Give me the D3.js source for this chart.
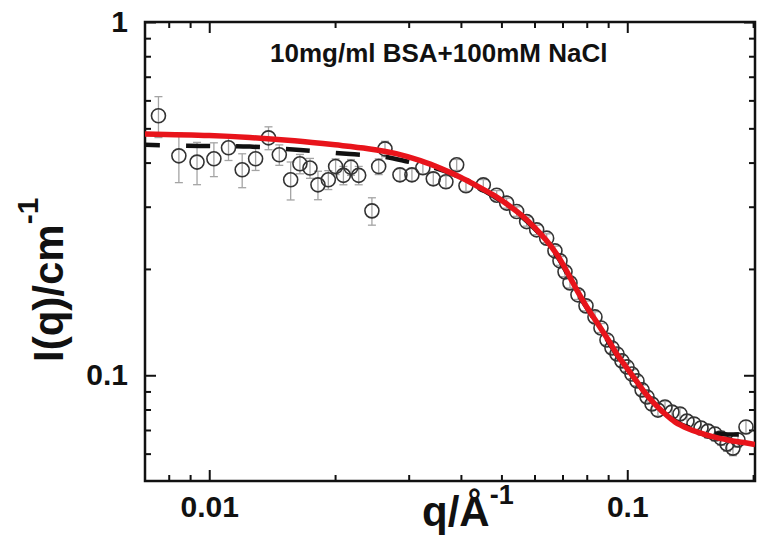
<!DOCTYPE html>
<html>
<head>
<meta charset="utf-8">
<script src="https://cdn.jsdelivr.net/npm/d3@7"></script>
<style>
  html, body { margin: 0; padding: 0; background: #fff; }
  svg { display: block; }
  text { font-family: "Liberation Sans", Arial, Helvetica, sans-serif; font-weight: bold; fill: #111; }
</style>
</head>
<body>
<svg id="chart" width="762" height="538"></svg>
<script>
// Measured SAXS intensity, I(q) in cm^-1 against q in 1/Å
const qData = [0.00756, 0.00846, 0.00935, 0.01026, 0.01112, 0.01199, 0.01291, 0.01386, 0.01471, 0.01566,
  0.01648, 0.01742, 0.0182, 0.01927, 0.02006, 0.02094, 0.02183, 0.02278, 0.0245, 0.02543,
  0.02633, 0.02859, 0.03054, 0.03244, 0.03435, 0.03683, 0.03908, 0.04113, 0.04525, 0.04871,
  0.05146, 0.05437, 0.05745, 0.06071, 0.06415, 0.06714, 0.06903, 0.07097, 0.07294, 0.07621,
  0.07966, 0.0837, 0.08651, 0.08942, 0.09192, 0.09449, 0.09712, 0.09984, 0.1026, 0.1055,
  0.1085, 0.1115, 0.1146, 0.1184, 0.1231, 0.1279, 0.1337, 0.1389, 0.1444, 0.1501,
  0.156, 0.1621, 0.1676, 0.1732, 0.179, 0.184, 0.1923];
const iData = [0.5428, 0.418, 0.4013, 0.410, 0.4405, 0.3816, 0.410, 0.470, 0.4209, 0.3575,
  0.3968, 0.386, 0.346, 0.3575, 0.3899, 0.3681, 0.388, 0.3681, 0.292, 0.3899,
  0.4375, 0.3693, 0.3693, 0.3867, 0.3598, 0.3529, 0.3942, 0.3438, 0.346, 0.3233,
  0.3072, 0.2908, 0.2723, 0.258, 0.2444, 0.225, 0.2108, 0.1962, 0.1826, 0.1689,
  0.1572, 0.1463, 0.1361, 0.1259, 0.1195, 0.1149, 0.1098, 0.1056, 0.1008, 0.0964,
  0.0909, 0.0868, 0.0829, 0.0797, 0.0813, 0.0787, 0.0777, 0.0742, 0.0728, 0.0709,
  0.0695, 0.0682, 0.0664, 0.0639, 0.0622, 0.0656, 0.0714];
const errData = [0.072, 0.067, 0.055, 0.045, 0.035, 0.042, 0.030, 0.035, 0.028, 0.044,
  0.025, 0.025, 0.032, 0.022, 0.020, 0.022, 0.020, 0.022, 0.026, 0.020,
  0.022, 0.015, 0.015, 0.015, 0.015, 0.014, 0.014, 0.012, 0.012, 0.010,
  0.010, 0.009, 0.008, 0.008, 0.007, 0.007, 0.006, 0.006, 0.006, 0.005,
  0.005, 0.005, 0.004, 0.004, 0.004, 0.004, 0.004, 0.003, 0.003, 0.003,
  0.003, 0.003, 0.003, 0.003, 0.003, 0.003, 0.003, 0.003, 0.003, 0.003,
  0.003, 0.003, 0.003, 0.003, 0.003, 0.003, 0.003];

// Model fit (solid red)
const fitQ = [0.00702, 0.010, 0.0125, 0.016, 0.020, 0.024, 0.028, 0.032, 0.036, 0.040,
  0.044, 0.048, 0.052, 0.056, 0.060, 0.064, 0.068, 0.072, 0.076, 0.080,
  0.085, 0.090, 0.095, 0.100, 0.105, 0.110, 0.116, 0.122, 0.130, 0.140,
  0.150, 0.160, 0.175, 0.190, 0.2021];
const fitI = [0.482, 0.477, 0.471, 0.461, 0.449, 0.438, 0.424, 0.405, 0.384, 0.363,
  0.342, 0.323, 0.303, 0.283, 0.262, 0.241, 0.219, 0.195, 0.173, 0.156,
  0.140, 0.126, 0.1135, 0.1045, 0.0965, 0.0895, 0.0832, 0.0785, 0.0738, 0.0706,
  0.0686, 0.0670, 0.0655, 0.0645, 0.0637];

// Second fit (black dashed)
const dashQ = [0.00702, 0.0095, 0.0125, 0.0165, 0.0217, 0.026, 0.030, 0.034, 0.038, 0.044,
  0.052, 0.060, 0.068, 0.076, 0.085, 0.095, 0.105, 0.116, 0.130, 0.145,
  0.160, 0.180, 0.2021];
const dashI = [0.449, 0.446, 0.444, 0.434, 0.4227, 0.416, 0.402, 0.389, 0.372, 0.340,
  0.301, 0.260, 0.217, 0.171, 0.139, 0.1128, 0.0962, 0.0832, 0.0742, 0.0703,
  0.0686, 0.0680, 0.0682];

// Axis ticks
const xMajor = [0.01, 0.1];
const xMajorLabels = ["0.01", "0.1"];
const xMinor = [0.008, 0.009, 0.02, 0.03, 0.04, 0.05, 0.06, 0.07, 0.08, 0.09, 0.2];
const yMajor = [0.1, 1];
const yMajorLabels = ["0.1", "1"];
const yMinor = [0.06, 0.07, 0.08, 0.09, 0.2, 0.3, 0.4, 0.5, 0.6, 0.7, 0.8, 0.9];

const titleText = "10mg/ml BSA+100mM NaCl";

const plot = { left: 145, right: 755, top: 22, bottom: 481 };
const x = d3.scaleLog().domain([0.00702, 0.2021]).range([plot.left, plot.right]);
const y = d3.scaleLog().domain([0.0502, 1]).range([plot.bottom, plot.top]);

const svg = d3.select("#chart");

svg.append("defs").append("clipPath").attr("id", "plot-clip")
  .append("rect")
  .attr("x", plot.left).attr("y", plot.top)
  .attr("width", plot.right - plot.left).attr("height", plot.bottom - plot.top);

// Ticks on all four sides, pointing inward
function styleTicks(g, withText) {
  g.select(".domain").remove();
  g.selectAll(".tick line").attr("stroke", "#111").attr("stroke-width", 2);
  if (!withText) g.selectAll(".tick text").remove();
}
function addAxis(axis, tx, ty, withText) {
  return svg.append("g")
    .attr("transform", `translate(${tx},${ty})`)
    .call(axis)
    .call(g => styleTicks(g, withText));
}

// bottom
addAxis(d3.axisBottom(x).tickValues(xMinor).tickSizeInner(-6).tickSizeOuter(0), 0, plot.bottom, false);
const xb = addAxis(d3.axisBottom(x).tickValues(xMajor).tickSizeInner(-11).tickSizeOuter(0)
  .tickPadding(15).tickFormat((d, i) => xMajorLabels[i]), 0, plot.bottom, true);
xb.selectAll(".tick text").attr("font-size", 30).attr("fill", "#111")
  .attr("font-family", '"Liberation Sans", Arial, sans-serif').attr("font-weight", "bold");
// top
addAxis(d3.axisTop(x).tickValues(xMinor).tickSizeInner(-6).tickSizeOuter(0), 0, plot.top, false);
addAxis(d3.axisTop(x).tickValues(xMajor).tickSizeInner(-11).tickSizeOuter(0), 0, plot.top, false);
// left
addAxis(d3.axisLeft(y).tickValues(yMinor).tickSizeInner(-6).tickSizeOuter(0), plot.left, 0, false);
const yl = addAxis(d3.axisLeft(y).tickValues(yMajor).tickSizeInner(-11).tickSizeOuter(0)
  .tickPadding(17).tickFormat((d, i) => yMajorLabels[i]), plot.left, 0, true);
yl.selectAll(".tick text").attr("font-size", 30).attr("fill", "#111")
  .attr("font-family", '"Liberation Sans", Arial, sans-serif').attr("font-weight", "bold");
// right
addAxis(d3.axisRight(y).tickValues(yMinor).tickSizeInner(-6).tickSizeOuter(0), plot.right, 0, false);
addAxis(d3.axisRight(y).tickValues(yMajor).tickSizeInner(-11).tickSizeOuter(0), plot.right, 0, false);

// frame
svg.append("rect")
  .attr("x", plot.left).attr("y", plot.top)
  .attr("width", plot.right - plot.left).attr("height", plot.bottom - plot.top)
  .attr("fill", "none").attr("stroke", "#111").attr("stroke-width", 2.5);

const points = qData.map((q, i) => ({ q, I: iData[i], e: errData[i] }));
const layer = svg.append("g").attr("clip-path", "url(#plot-clip)");

// error bars
const eb = layer.append("g").attr("stroke", "#a4a4a4").attr("stroke-width", 1.3).attr("fill", "none");
const cap = 4;
points.forEach(p => {
  const cx = x(p.q), y0 = y(p.I - p.e), y1 = y(p.I + p.e);
  eb.append("line").attr("x1", cx).attr("x2", cx).attr("y1", y0).attr("y2", y1);
  eb.append("line").attr("x1", cx - cap).attr("x2", cx + cap).attr("y1", y0).attr("y2", y0);
  eb.append("line").attr("x1", cx - cap).attr("x2", cx + cap).attr("y1", y1).attr("y2", y1);
});

// data symbols
layer.append("g").selectAll("circle").data(points).join("circle")
  .attr("cx", d => x(d.q)).attr("cy", d => y(d.I)).attr("r", 7)
  .attr("fill", "none").attr("stroke", "#333").attr("stroke-width", 1.6);

const line = d3.line().x(d => x(d[0])).y(d => y(d[1])).curve(d3.curveCatmullRom.alpha(0.5));

// dashed fit
layer.append("path")
  .attr("d", line(dashQ.map((q, i) => [q, dashI[i]])))
  .attr("fill", "none").attr("stroke", "#111").attr("stroke-width", 4.5)
  .attr("stroke-dasharray", "24 26").attr("stroke-dashoffset", 9);

// red fit
layer.append("path")
  .attr("d", line(fitQ.map((q, i) => [q, fitI[i]])))
  .attr("fill", "none").attr("stroke", "#e8141b").attr("stroke-width", 5.5)
  .attr("stroke-linejoin", "round");

// title
svg.append("text").attr("x", 270).attr("y", 62)
  .attr("font-size", 26).attr("fill", "#222").text(titleText);

// axis titles
const xt = svg.append("text").attr("x", 422).attr("y", 526).attr("font-size", 42);
xt.append("tspan").text("q/Å");
xt.append("tspan").attr("font-size", 27).attr("dy", -22).text("-1");

const yt = svg.append("text").attr("transform", "translate(63,362) rotate(-90)").attr("font-size", 42);
yt.append("tspan").text("I(q)/cm");
yt.append("tspan").attr("font-size", 30).attr("dy", -25).text("-1");
</script>
</body>
</html>
